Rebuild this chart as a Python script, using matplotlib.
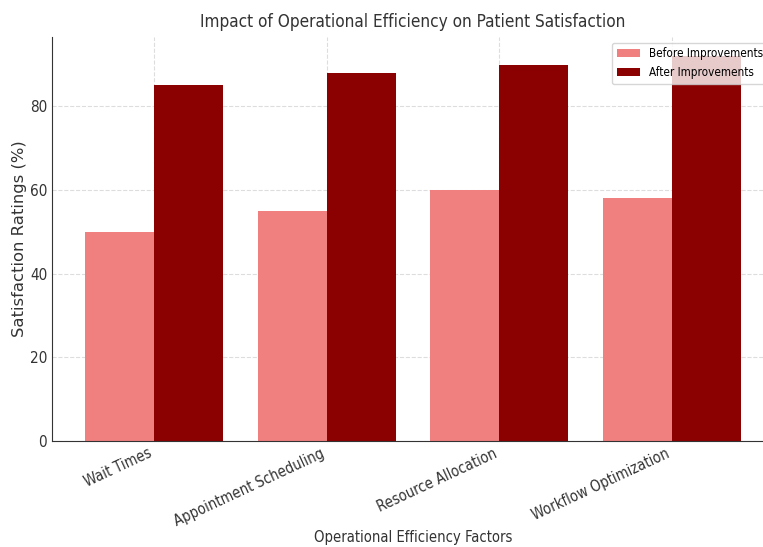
import numpy as np
import matplotlib.pyplot as plt

# narrower glyphs, the original looks squeezed sideways
plt.rcParams["font.stretch"] = "condensed"

# data
factors = ["Wait Times", "Appointment Scheduling", "Resource Allocation", "Workflow Optimization"]
before = [50, 55, 60, 58]
after = [85, 88, 90, 92]

x = np.arange(len(factors))
width = 0.4

fig = plt.figure(figsize=(7.63, 5.47), dpi=100)
# axes deliberately runs past the right edge, like the cropped original
ax = fig.add_axes([0.0682, 0.1938, 0.946, 0.7386])

ax.bar(x - width / 2, before, width, color="lightcoral", label="Before Improvements")
ax.bar(x + width / 2, after, width, color="darkred", label="After Improvements")

ax.set_title("Impact of Operational Efficiency on Patient Satisfaction", fontsize=12.3, color="#333333", pad=7)
ax.set_xlabel("Operational Efficiency Factors", fontsize=10.6, color="#333333", labelpad=1)
# vertical text isn't squeezed in the original, so normal width here
ax.set_ylabel("Satisfaction Ratings (%)", fontsize=11.8, color="#333333", labelpad=2,
              fontstretch="normal")
ax.set_xticks(x)
ax.set_xticklabels(factors, rotation=25, ha="right", fontsize=10.5, color="#333333")
ax.tick_params(axis="y", labelsize=11, labelcolor="#333333", length=0)
ax.tick_params(axis="x", length=0)

ax.grid(True, linestyle="--", color="#dddddd", linewidth=0.8)
ax.set_axisbelow(True)
for s in ["top", "right"]:
    ax.spines[s].set_visible(False)
ax.spines["left"].set_color("#333333")
ax.spines["bottom"].set_color("#333333")

ax.legend(loc="upper right", fontsize=8.4)

fig.savefig("out.png", dpi=100)
